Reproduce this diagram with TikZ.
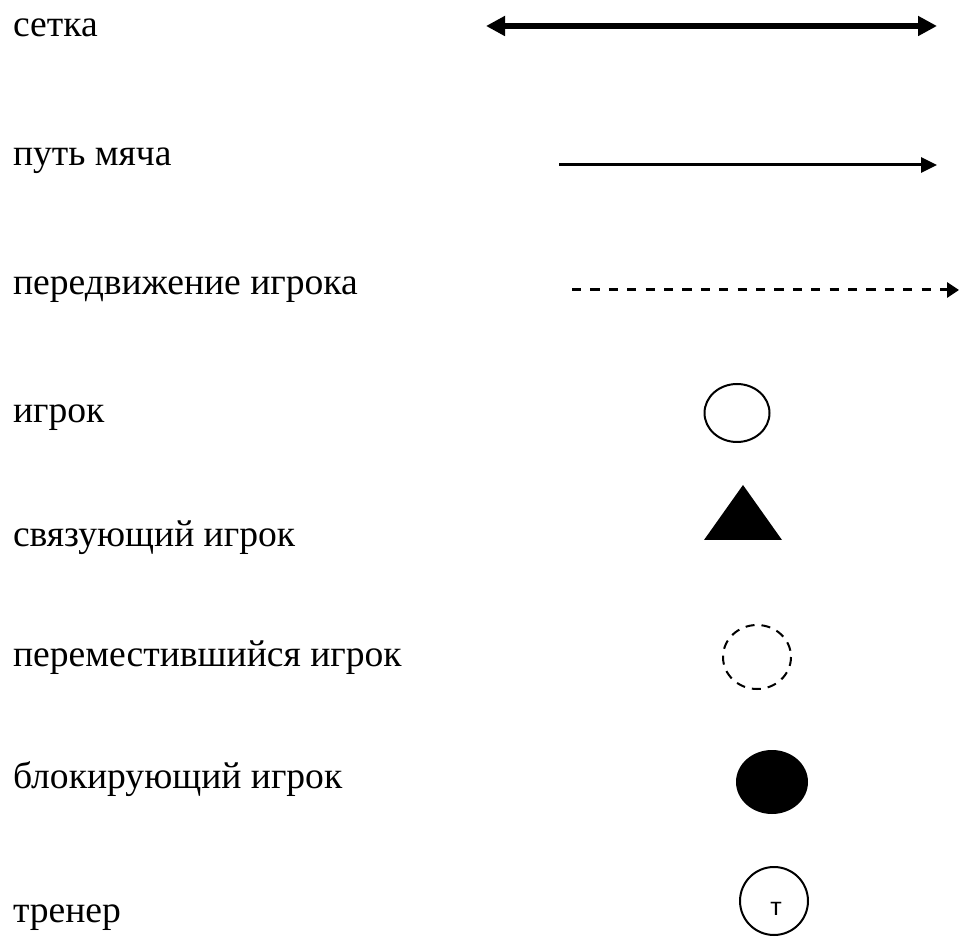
\documentclass[tikz,border=0pt]{standalone}
\usepackage{fontspec}
\setmainfont{Liberation Serif}
\newfontfamily\coachfont{Liberation Sans}
\usetikzlibrary{arrows.meta}
\begin{document}
\begin{tikzpicture}[x=0.5pt,y=-0.5pt,
  every node/.style={inner sep=0pt},
  legend/.style={anchor=base west,font=\fontsize{18.8}{22}\selectfont},
  line width=1pt]
\useasboundingbox (0,0) rectangle (959,946);
% labels on the left
\node[legend] (lnet)     at (12,37)  {сетка};
\node[legend] (lball)    at (12,166) {путь мяча};
\node[legend] (lmove)    at (12,295) {передвижение игрока};
\node[legend] (lplayer)  at (12,423) {игрок};
\node[legend] (lsetter)  at (12,546) {связующий игрок};
\node[legend] (lmoved)   at (12,667) {переместившийся игрок};
\node[legend] (lblocker) at (12,788) {блокирующий игрок};
\node[legend] (lcoach)   at (12,922) {тренер};
% lines
\coordinate (net1) at (486,26);  \coordinate (net2) at (937,26);
\draw [line width=3.2pt,{Triangle[length=9.5pt,width=9.5pt]}-{Triangle[length=9.5pt,width=9.5pt]}] (net1) -- (net2);
\coordinate (ball1) at (559,165); \coordinate (ball2) at (937,165);
\draw [line width=1.5pt,-{Triangle[length=8pt,width=7.5pt]}] (ball1) -- (ball2);
\coordinate (move1) at (572,290); \coordinate (move2) at (959,290);
\draw [line width=1.5pt,dash pattern=on 4.6pt off 4.6pt,-{Triangle[length=6pt,width=7.5pt]}] (move1) -- (move2);
% symbols
\draw (737,413) ellipse [x radius=32.5,y radius=29];
\fill (743,485) -- (782,540) -- (704,540) -- cycle;
\draw [dash pattern=on 4.5pt off 3.5pt] (757,657) ellipse [x radius=34,y radius=32];
\fill (772,782) ellipse [x radius=36,y radius=32];
\draw (774,901) ellipse [x radius=34,y radius=34];
\node[font=\coachfont\fontsize{12.5}{14}\selectfont] (coach) at (776,909) {т};
\end{tikzpicture}
\end{document}
